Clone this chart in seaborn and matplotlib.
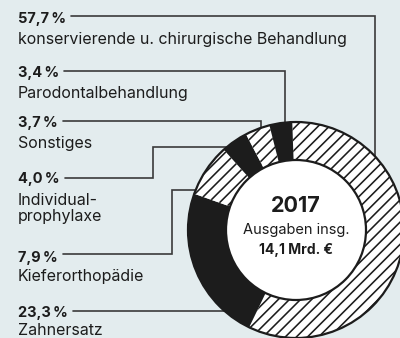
import matplotlib
matplotlib.use("Agg")
import matplotlib.pyplot as plt
from matplotlib.patches import Circle
import seaborn as sns

# Zahnärztliche Behandlung 2017: Anteile an den Ausgaben in Prozent
categories = [
    "konservierende u. chirurgische Behandlung",
    "Parodontalbehandlung",
    "Sonstiges",
    "Individual-\nprophylaxe",
    "Kieferorthopädie",
    "Zahnersatz",
]
shares = [57.7, 3.4, 3.7, 4.0, 7.9, 23.3]
share_labels = ["57,7", "3,4", "3,7", "4,0", "7,9", "23,3"]
hatched = [True, False, True, False, True, False]
# clockwise order around the ring, beginning at twelve o'clock
ring_order = [0, 5, 4, 3, 2, 1]

year = "2017"
subtitle = "Ausgaben insg."
total = "14,1 Mrd. €"

BG = "#e3ecee"
INK = "#1c1c1c"
LINE = "#3a3a3a"

sns.set_theme(style="white", rc={
    "figure.facecolor": BG,
    "axes.facecolor": BG,
    "hatch.color": INK,
    "hatch.linewidth": 1.15,
})
plt.rcParams["font.family"] = ["Inter", "DejaVu Sans"]

fig = plt.figure(figsize=(4.0, 3.38), dpi=100)
ax = fig.add_axes([0, 0, 1, 1])

cx, cy, r_out, r_in = 296, 230, 108, 70

ring_vals = [shares[i] for i in ring_order]
wedges, _ = ax.pie(
    ring_vals, center=(cx, cy), radius=r_out,
    startangle=-92, counterclock=True,
    colors=["white" if hatched[i] else INK for i in ring_order],
    wedgeprops=dict(linewidth=0, edgecolor=INK),
)
for w, i in zip(wedges, ring_order):
    w.set_zorder(3)
    if hatched[i]:
        w.set_hatch("///")

ax.add_patch(Circle((cx, cy), r_out, fill=False, ec=INK, lw=1.6, zorder=4))
ax.add_patch(Circle((cx, cy), r_in, fc="white", ec=INK, lw=1.6, zorder=4))

ax.set_xlim(0, 400)
ax.set_ylim(338, 0)
ax.set_aspect("equal")
ax.axis("off")

# centre text
ax.text(cx, 206, year, ha="center", va="center", fontsize=15.5,
        fontweight="bold", color=INK, zorder=5)
ax.text(cx, 230, subtitle, ha="center", va="center", fontsize=10.5,
        color=INK, zorder=5)
ax.text(cx, 250, total, ha="center", va="center", fontsize=10,
        fontweight="bold", color=INK, zorder=5)

# label block on the left
x0 = 18
pct_base = [23, 77, 127, 183, 262, 317]
name_base = [44, 98, 148, 205, 281, 335]
pct_texts = []
for k in range(len(categories)):
    t = ax.text(x0, pct_base[k], share_labels[k] + "\u2009%", ha="left",
                va="baseline", fontsize=10.5, fontweight="bold", color=INK)
    pct_texts.append(t)
    lines = categories[k].split("\n")
    for j, s in enumerate(lines):
        ax.text(x0, name_base[k] + 16 * j, s, ha="left", va="baseline",
                fontsize=11.5, color=INK)

# leader routes: line height, then elbow points running into the ring
line_y = [15.5, 71, 121, 178, 254, 311]
routes = [
    [(375, 15.5), (375, 200)],
    [(285, 71), (285, 180)],
    [(261, 121), (261, 180)],
    [(153, 178), (153, 147), (250, 147)],
    [(172, 254), (172, 190), (230, 190)],
    [(240, 311)],
]
fig.canvas.draw()
renderer = fig.canvas.get_renderer()
for k, t in enumerate(pct_texts):
    bb = t.get_window_extent(renderer)
    xs = [bb.x1 + 5] + [p[0] for p in routes[k]]
    ys = [line_y[k]] + [p[1] for p in routes[k]]
    ax.plot(xs, ys, color=LINE, lw=1.2, zorder=1, solid_joinstyle="miter")

fig.savefig("out.png", dpi=100, facecolor=BG)
